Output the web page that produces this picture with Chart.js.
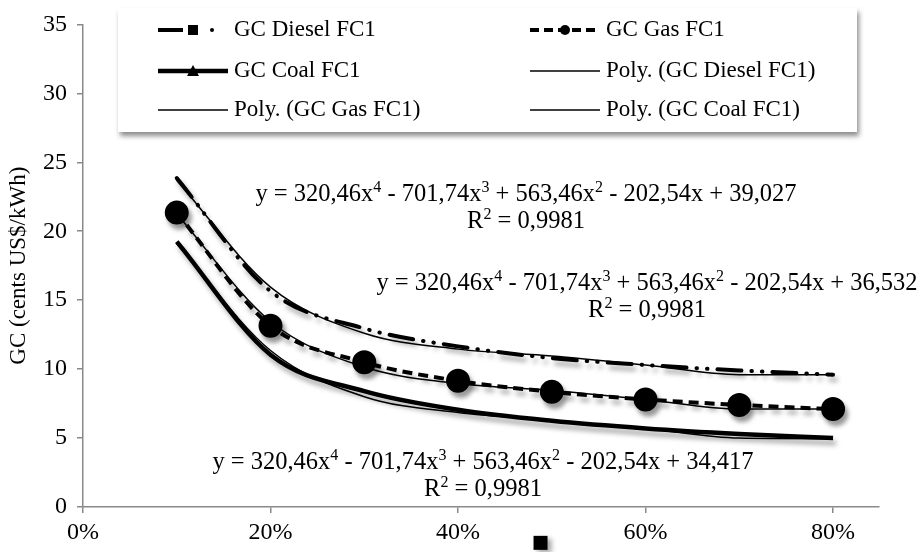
<!DOCTYPE html>
<html lang="en">
<head>
  <meta charset="UTF-8" />
  <title>GC vs FC1</title>
  <script src="https://cdn.jsdelivr.net/npm/chart.js"></script>
  <style>
    html, body { margin: 0; padding: 0; background: #fff; }
    #wrap { width: 922px; height: 552px; }
  </style>
</head>
<body>
  <div id="wrap"><canvas id="gcChart" width="922" height="552"></canvas></div>

  <script>
    // values
    const capacityFactor = [0.1, 0.2, 0.3, 0.4, 0.5, 0.6, 0.7, 0.8];
    const dieselGC = [23.85, 15.65, 12.95, 11.65, 10.8, 10.3, 9.9, 9.6];
    const gasGC    = [21.35, 13.15, 10.5, 9.15, 8.35, 7.8, 7.4, 7.1];
    const coalGC   = [19.25, 11.05, 8.4, 7.05, 6.25, 5.7, 5.3, 5.0];
    const dieselTrend = [23.7, 15.95, 12.6, 11.45, 10.95, 10.3, 9.6, 9.6];
    const gasTrend    = [21.25, 13.45, 10.15, 8.95, 8.45, 7.8, 7.1, 7.1];
    const coalTrend   = [19.1, 11.35, 8.0, 6.85, 6.3, 5.7, 5.0, 4.95];
    const strayMark = { x: 0.488, y: -2.6 };

    const xTicks = [0, 0.2, 0.4, 0.6, 0.8];
    const yTicks = [0, 5, 10, 15, 20, 25, 30, 35];

    const legendItems = [
      ['GC Diesel FC1', 'GC Gas FC1'],
      ['GC Coal FC1', 'Poly. (GC Diesel FC1)'],
      ['Poly. (GC Gas FC1)', 'Poly. (GC Coal FC1)']
    ];
    const equations = [
      { c: '39,027', cx: 526, cy: 195 },
      { c: '36,532', cx: 647, cy: 284 },
      { c: '34,417', cx: 483, cy: 463 }
    ];
    const rSquared = '0,9981';

    const FONT = '"Liberation Serif", "DejaVu Serif", serif';
    const EQ_FS = 24.5;
    const TICK_FS = 24;
    const LEG_FS = 23;

    const pts = vals => vals.map((v, i) => ({ x: capacityFactor[i], y: v }));

    const shadowPlugin = {
      id: 'shadow',
      beforeDatasetDraw(chart, args) {
        const ds = chart.data.datasets[args.index];
        if (!ds.shadow) return;
        const ctx = chart.ctx;
        ctx.save();
        ctx.shadowColor = 'rgba(0,0,0,0.35)';
        ctx.shadowBlur = 5;
        ctx.shadowOffsetX = 3;
        ctx.shadowOffsetY = 5;
      },
      afterDatasetDraw(chart, args) {
        const ds = chart.data.datasets[args.index];
        if (ds.shadow) chart.ctx.restore();
      }
    };

    function drawRich(ctx, parts, cx, cy) {
      // parts: [text, isSup]
      const normal = EQ_FS + 'px ' + FONT;
      const small = Math.round(EQ_FS * 0.66) + 'px ' + FONT;
      let w = 0;
      parts.forEach(p => { ctx.font = p[1] ? small : normal; w += ctx.measureText(p[0]).width; });
      let x = cx - w / 2;
      ctx.textBaseline = 'middle';
      ctx.textAlign = 'left';
      parts.forEach(p => {
        ctx.font = p[1] ? small : normal;
        ctx.fillText(p[0], x, p[1] ? cy - 7 : cy);
        x += ctx.measureText(p[0]).width;
      });
    }

    const annotationPlugin = {
      id: 'annotations',
      afterDraw(chart) {
        const ctx = chart.ctx;
        ctx.save();
        ctx.fillStyle = '#000';
        equations.forEach(e => {
          drawRich(ctx, [
            ['y = 320,46x', false], ['4', true], [' - 701,74x', false], ['3', true],
            [' + 563,46x', false], ['2', true], [' - 202,54x + ' + e.c, false]
          ], e.cx, e.cy);
          drawRich(ctx, [['R', false], ['2', true], [' = ' + rSquared, false]], e.cx, e.cy + 27);
        });

        // stray marker below the axis, placed through the scales
        const sx = chart.scales.x.getPixelForValue(strayMark.x);
        const sy = chart.scales.y.getPixelForValue(strayMark.y);
        ctx.save();
        ctx.shadowColor = 'rgba(0,0,0,0.35)';
        ctx.shadowBlur = 5;
        ctx.shadowOffsetX = 4;
        ctx.shadowOffsetY = 3;
        ctx.fillRect(sx - 7, sy - 7, 14, 14);
        ctx.restore();

        // legend box
        const bx = 118, by = 8, bw = 739, bh = 124;
        ctx.save();
        ctx.shadowColor = 'rgba(0,0,0,0.45)';
        ctx.shadowBlur = 5;
        ctx.shadowOffsetX = 2;
        ctx.shadowOffsetY = 4;
        ctx.fillStyle = '#fff';
        ctx.fillRect(bx, by, bw, bh);
        ctx.restore();

        const rows = [30, 71, 110];
        const cols = [158, 530];
        ctx.font = LEG_FS + 'px ' + FONT;
        ctx.textBaseline = 'middle';
        ctx.textAlign = 'left';
        ctx.fillStyle = '#000';
        ctx.strokeStyle = '#000';
        legendItems.forEach((row, r) => {
          row.forEach((label, c) => {
            const x0 = cols[c], y = rows[r];
            ctx.save();
            if (label === 'GC Diesel FC1') {
              ctx.lineWidth = 4;
              ctx.beginPath(); ctx.moveTo(x0, y); ctx.lineTo(x0 + 25, y); ctx.stroke();
              ctx.fillRect(x0 + 30, y - 5, 10, 10);
              ctx.beginPath(); ctx.arc(x0 + 54, y, 2, 0, Math.PI * 2); ctx.fill();
            } else if (label === 'GC Gas FC1') {
              ctx.lineWidth = 4;
              ctx.setLineDash([9, 5]);
              ctx.beginPath(); ctx.moveTo(x0, y); ctx.lineTo(x0 + 69, y); ctx.stroke();
              ctx.beginPath(); ctx.arc(x0 + 35, y, 5, 0, Math.PI * 2); ctx.fill();
            } else if (label === 'GC Coal FC1') {
              ctx.lineWidth = 4.5;
              ctx.beginPath(); ctx.moveTo(x0, y); ctx.lineTo(x0 + 70, y); ctx.stroke();
              ctx.beginPath(); ctx.moveTo(x0 + 35, y - 6); ctx.lineTo(x0 + 41, y + 5); ctx.lineTo(x0 + 29, y + 5); ctx.closePath(); ctx.fill();
            } else {
              ctx.lineWidth = 1.5;
              ctx.beginPath(); ctx.moveTo(x0, y); ctx.lineTo(x0 + 70, y); ctx.stroke();
            }
            ctx.restore();
            ctx.fillText(label, x0 + 76, y);
          });
        });
        ctx.restore();
      }
    };

    const lineBase = {
      showLine: true,
      borderColor: '#000',
      backgroundColor: '#000',
      pointRadius: 0,
      cubicInterpolationMode: 'monotone',
      fill: false
    };

    new Chart(document.getElementById('gcChart'), {
      type: 'scatter',
      data: {
        datasets: [
          Object.assign({}, lineBase, { label: 'Poly. (GC Diesel FC1)', data: pts(dieselTrend), borderWidth: 1.5, order: 1 }),
          Object.assign({}, lineBase, { label: 'Poly. (GC Gas FC1)', data: pts(gasTrend), borderWidth: 1.5, order: 1 }),
          Object.assign({}, lineBase, { label: 'Poly. (GC Coal FC1)', data: pts(coalTrend), borderWidth: 1.5, order: 1 }),
          Object.assign({}, lineBase, { label: 'GC Diesel FC1', data: pts(dieselGC), borderWidth: 4,
            borderDash: [24, 10, 0.5, 10, 0.5, 10], borderCapStyle: 'round', pointStyle: 'rect', shadow: true, order: 2 }),
          Object.assign({}, lineBase, { label: 'GC Gas FC1', data: pts(gasGC), borderWidth: 4,
            borderDash: [10, 6], pointRadius: 10, pointStyle: 'circle', shadow: true, order: 2 }),
          Object.assign({}, lineBase, { label: 'GC Coal FC1', data: pts(coalGC), borderWidth: 4.5,
            pointStyle: 'triangle', shadow: true, order: 2 })
        ]
      },
      options: {
        responsive: false,
        animation: false,
        layout: { padding: { top: 13, right: 43, bottom: 0, left: 0 } },
        plugins: { legend: { display: false }, tooltip: { enabled: false } },
        scales: {
          x: {
            type: 'linear',
            min: 0,
            max: 0.849,
            afterBuildTicks: s => { s.ticks = xTicks.map(v => ({ value: v })); },
            afterFit: s => { s.height = 45; },
            border: { color: '#898989', width: 1.5 },
            grid: { drawOnChartArea: false, color: '#898989', tickLength: 6, lineWidth: 1.5 },
            ticks: {
              color: '#000', padding: 5,
              font: { family: FONT, size: TICK_FS },
              callback: v => Math.round(v * 100) + '%'
            }
          },
          y: {
            min: 0,
            max: 35,
            afterBuildTicks: s => { s.ticks = yTicks.map(v => ({ value: v })); },
            afterFit: s => { s.width = 83; },
            border: { color: '#898989', width: 1.5 },
            grid: { drawOnChartArea: false, color: '#898989', tickLength: 6, lineWidth: 1.5 },
            title: {
              display: true, text: 'GC (cents US$/kWh)', color: '#000',
              font: { family: FONT, size: 23 }, padding: { top: 5, bottom: 0 }
            },
            ticks: { color: '#000', padding: 10, font: { family: FONT, size: TICK_FS } }
          }
        }
      },
      plugins: [shadowPlugin, annotationPlugin]
    });
  </script>
</body>
</html>
